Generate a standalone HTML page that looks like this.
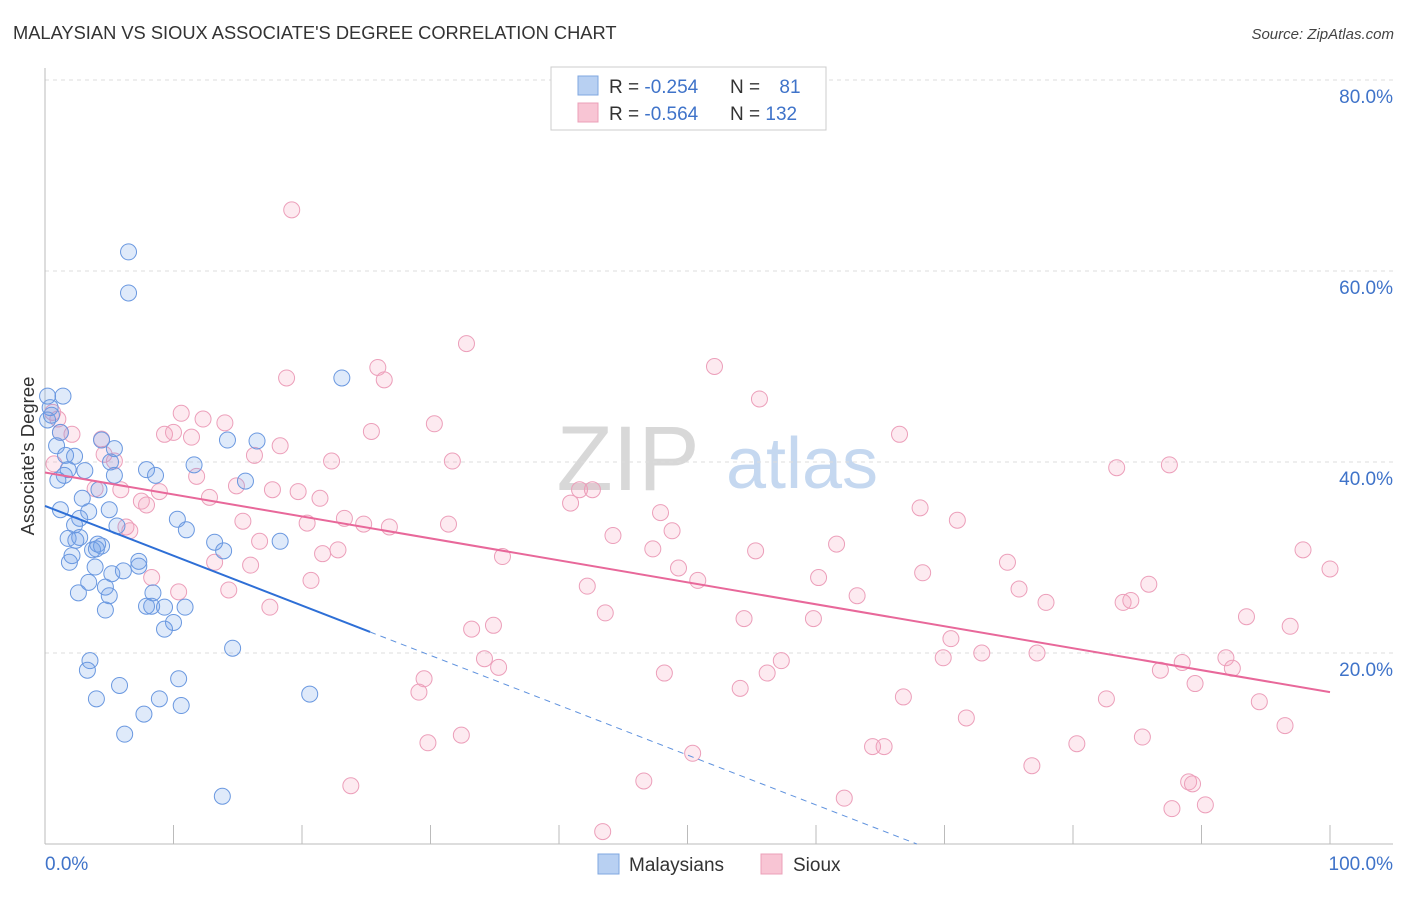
<!DOCTYPE html>
<html><head><meta charset="utf-8"><style>
body{margin:0;background:#fff;font-family:"Liberation Sans",sans-serif;}
svg text{font-family:"Liberation Sans",sans-serif;}
</style></head><body>
<svg id="chart" width="1406" height="892" viewBox="0 0 1406 892" xmlns="http://www.w3.org/2000/svg">
<text x="13" y="39" font-size="18.3" fill="#333">MALAYSIAN VS SIOUX ASSOCIATE'S DEGREE CORRELATION CHART</text>
<text x="1394" y="39" font-size="15" fill="#444" font-style="italic" text-anchor="end">Source: ZipAtlas.com</text>
<g>
<text x="628" y="490" font-size="92" fill="#d8d8d8" font-family="Liberation Serif,serif" text-anchor="middle">ZIP</text>
<text x="802" y="488" font-size="72" fill="#c5d8f0" text-anchor="middle">atlas</text>
</g>
<g id="grid"></g>
<g id="axes"></g>
<g id="pts"></g>
<g id="trends"></g>
<g>
<rect x="551" y="67" width="275" height="63" fill="#fff" stroke="#ccc"/>
<rect x="578" y="76" width="20" height="19" fill="#b8d0f2" stroke="#7fa7e0"/>
<rect x="578" y="103" width="20" height="19" fill="#f8c5d4" stroke="#eba0b8"/>
<text x="609" y="93" font-size="19" fill="#333">R = <tspan fill="#3f73c9">-0.254</tspan></text>
<text x="730" y="93" font-size="19" fill="#333">N = <tspan fill="#3f73c9" dx="14">81</tspan></text>
<text x="609" y="120" font-size="19" fill="#333">R = <tspan fill="#3f73c9">-0.564</tspan></text>
<text x="730" y="120" font-size="19" fill="#333">N = <tspan fill="#3f73c9">132</tspan></text>
</g>
<g>
<rect x="598" y="854" width="21" height="20" fill="#b8d0f2" stroke="#7fa7e0"/>
<text x="629" y="871" font-size="19" fill="#333">Malaysians</text>
<rect x="761" y="854" width="21" height="20" fill="#f8c5d4" stroke="#eba0b8"/>
<text x="793" y="871" font-size="19" fill="#333">Sioux</text>
</g>
<text transform="translate(34,456) rotate(-90)" font-size="18.5" fill="#333" text-anchor="middle">Associate's Degree</text>
</svg>
<script>
const yTicks=[20,40,60,80];
const yTickLabels=["20.0%","40.0%","60.0%","80.0%"];
const xTicks=[0,10,20,30,40,50,60,70,80,90,100];
const xTickLabels=["0.0%","100.0%"];
const blueX=[0.2,1.4,0.4,0.5,0.2,1.2,0.9,4.4,5.4,14.2,16.5,6.5,6.5,23.1,1.6,2.3,1.8,1.5,3.1,1.0,5.1,5.4,7.9,8.6,11.6,15.6,4.2,2.9,1.2,3.4,5.0,2.7,2.3,5.6,10.3,11.0,1.8,2.7,2.4,4.1,4.4,3.7,4.0,13.2,13.9,18.3,2.1,1.9,7.3,7.3,3.9,5.2,6.1,3.4,4.7,2.6,5.0,8.4,7.9,8.3,9.3,10.9,4.7,10.0,9.3,14.6,3.5,3.3,5.8,10.4,8.9,4.0,10.6,20.6,7.7,6.2,13.8];
const blueY=[46.9,46.9,45.7,44.9,44.4,43.1,41.7,42.3,41.4,42.3,42.2,62.0,57.7,48.8,40.7,40.6,39.2,38.6,39.1,38.1,40.0,38.6,39.2,38.6,39.7,38.0,37.1,36.2,35.0,34.8,35.0,34.1,33.4,33.3,34.0,32.9,32.0,32.1,31.8,31.4,31.2,30.8,30.9,31.6,30.7,31.7,30.2,29.5,29.6,29.1,29.0,28.3,28.6,27.4,26.9,26.3,26.0,26.3,24.9,24.9,24.8,24.8,24.5,23.2,22.5,20.5,19.2,18.2,16.6,17.3,15.2,15.2,14.5,15.7,13.6,11.5,5.0];
const pinkX=[19.2,32.8,25.9,52.1,26.4,18.8,55.6,10.6,12.3,14.0,0.6,1.0,30.3,25.4,1.2,2.1,9.3,10.0,11.4,4.4,66.5,18.3,16.3,4.6,5.4,22.3,31.7,0.7,83.4,87.5,11.8,3.9,5.9,14.9,17.7,8.9,19.7,12.8,21.4,41.6,42.6,7.5,7.9,40.9,68.1,47.9,23.3,31.4,24.8,26.8,20.4,15.4,71.0,6.3,6.6,48.8,44.2,16.7,61.6,47.3,55.3,22.8,21.6,35.6,97.9,13.2,16.0,74.9,49.3,68.3,100,8.3,20.7,50.8,60.2,42.2,85.9,75.8,14.3,10.4,63.2,77.9,83.9,84.5,17.5,43.6,93.5,54.4,59.8,34.9,33.2,96.9,70.5,77.2,72.9,34.2,69.9,57.3,91.9,35.3,88.5,92.4,86.8,48.2,56.2,29.5,29.1,89.5,54.1,66.8,82.6,94.5,71.7,96.5,32.4,85.4,29.8,80.3,64.4,65.3,50.4,76.8,46.6,23.8,89.0,89.3,62.2,90.3,87.7,43.4];
const pinkY=[66.4,52.4,49.9,50.0,48.6,48.8,46.6,45.1,44.5,44.1,45.2,44.5,44.0,43.2,43.1,42.9,42.9,43.1,42.6,42.4,42.9,41.7,40.7,40.8,40.1,40.1,40.1,39.8,39.4,39.7,38.5,37.2,37.1,37.5,37.1,36.9,36.9,36.3,36.2,37.1,37.1,35.9,35.5,35.7,35.2,34.7,34.1,33.5,33.5,33.2,33.6,33.8,33.9,33.2,32.8,32.8,32.3,31.7,31.4,30.9,30.7,30.8,30.4,30.1,30.8,29.5,29.2,29.5,28.9,28.4,28.8,27.9,27.6,27.6,27.9,27.0,27.2,26.7,26.6,26.4,26.0,25.3,25.3,25.5,24.8,24.2,23.8,23.6,23.6,22.9,22.5,22.8,21.5,20.0,20.0,19.4,19.5,19.2,19.5,18.5,19.0,18.4,18.2,17.9,17.9,17.3,15.9,16.8,16.3,15.4,15.2,14.9,13.2,12.4,11.4,11.2,10.6,10.5,10.2,10.2,9.5,8.2,6.6,6.1,6.5,6.3,4.8,4.1,3.7,1.3];
const blueTrend=[35.4];
const blueTrendEnd=[25.3,22.2];
const pinkTrend=[38.9,15.9];

const NS="http://www.w3.org/2000/svg";
const X0=45,X1=1330,Y0=844,Y80=80;
const sx=v=>X0+(X1-X0)*v/100;
const sy=v=>Y0-(Y0-Y80)*v/80;
function mk(tag,attrs,parent){const e=document.createElementNS(NS,tag);for(const k in attrs)e.setAttribute(k,attrs[k]);parent.appendChild(e);return e;}
const grid=document.getElementById('grid'),axes=document.getElementById('axes'),pts=document.getElementById('pts'),tr=document.getElementById('trends');
yTicks.forEach((t,i)=>{
  const l=mk('line',{x1:X0,x2:1393,y1:sy(t),y2:sy(t),stroke:'#ddd','stroke-dasharray':'4,4'},grid);
  
  
  const tx=mk('text',{x:1393,y:sy(t)+23,'font-size':19,fill:'#3f73c9','text-anchor':'end'},axes);
  tx.textContent=yTickLabels[i];
  
  
});
const yl=mk('line',{x1:X0,x2:X0,y1:68,y2:Y0,stroke:'#bbb'},axes);


const xl=mk('line',{x1:X0,x2:1393,y1:Y0,y2:Y0,stroke:'#bbb'},axes);


xTicks.forEach(t=>{
  const l=mk('line',{x1:sx(t),x2:sx(t),y1:Y0,y2:Y0-19,stroke:'#bbb'},axes);
  
  
});
const xa=mk('text',{x:X0,y:870,'font-size':19,fill:'#3f73c9'},axes);xa.textContent=xTickLabels[0];


const xb=mk('text',{x:1393,y:870,'font-size':19,fill:'#3f73c9','text-anchor':'end'},axes);xb.textContent=xTickLabels[1];


function dots(xs,ys,fill,stroke,name){xs.forEach((x,i)=>{
  const c=mk('circle',{cx:sx(x),cy:sy(ys[i]),r:8,fill:fill,stroke:stroke,'stroke-width':1},pts);
  
  
});}
dots(pinkX,pinkY,'rgba(244,160,188,0.22)','#ec9fba','sioux-point');
dots(blueX,blueY,'rgba(110,160,230,0.22)','#6a98e0','malaysian-point');
const slope=(blueTrendEnd[1]-blueTrend[0])/blueTrendEnd[0];
const b1=mk('line',{x1:sx(0),y1:sy(blueTrend[0]),x2:sx(blueTrendEnd[0]),y2:sy(blueTrendEnd[1]),stroke:'#2e6fd6','stroke-width':2},tr);


const xz=-blueTrend[0]/slope;
const b2=mk('line',{x1:sx(blueTrendEnd[0]),y1:sy(blueTrendEnd[1]),x2:sx(xz),y2:sy(0),stroke:'#5f92de','stroke-width':1,'stroke-dasharray':'6,5'},tr);


const p1=mk('line',{x1:sx(0),y1:sy(pinkTrend[0]),x2:sx(100),y2:sy(pinkTrend[1]),stroke:'#e8689a','stroke-width':2},tr);


</script>
</body></html>
